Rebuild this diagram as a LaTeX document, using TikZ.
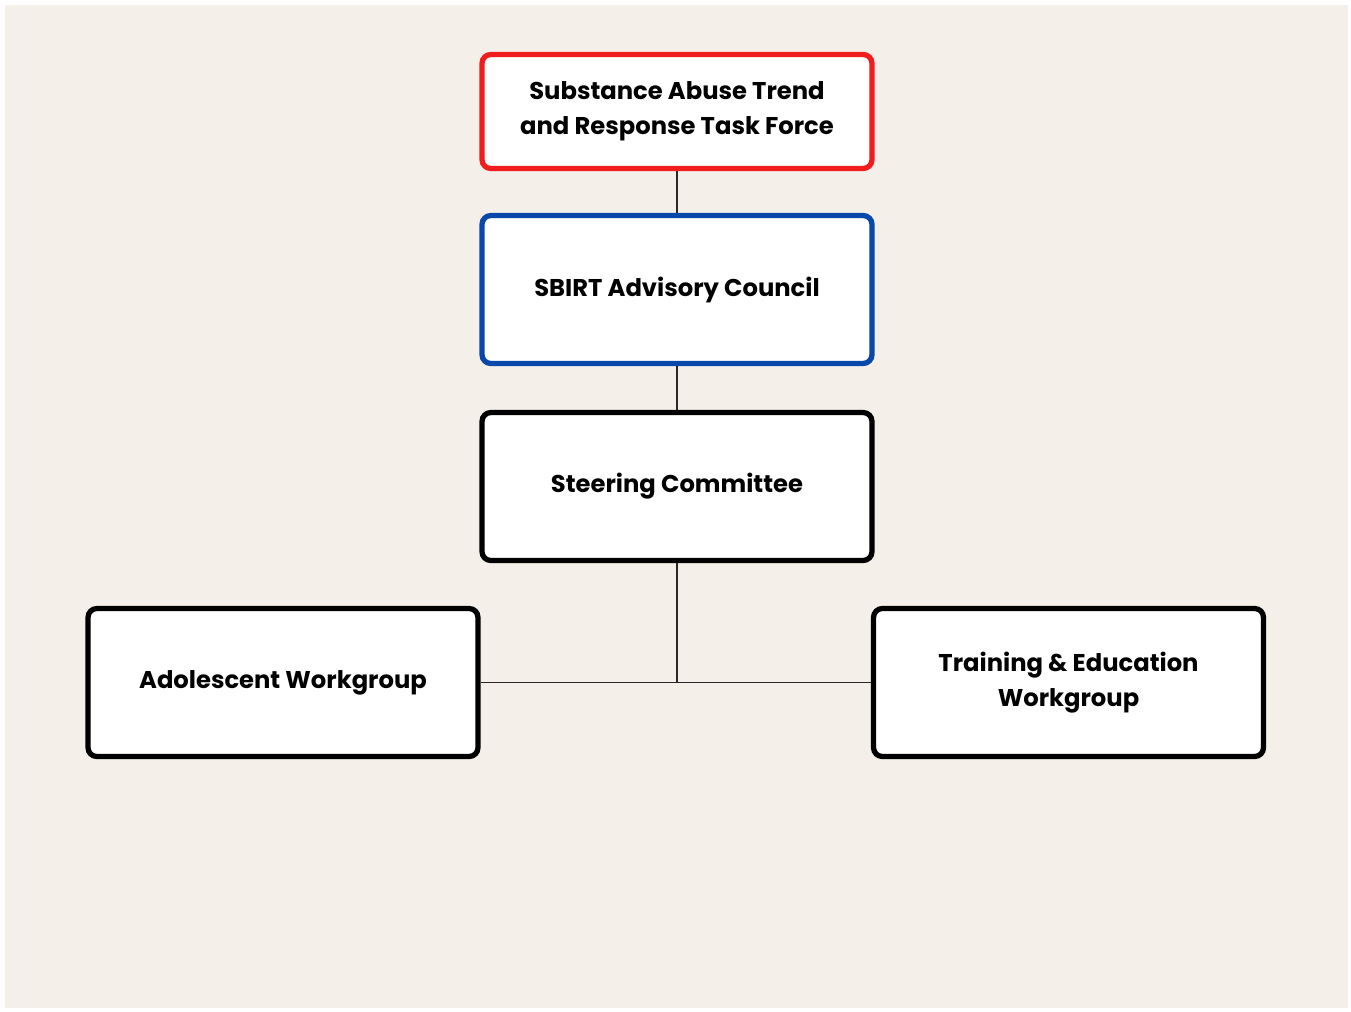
\documentclass[tikz,border=0pt]{standalone}
\usepackage{fontspec}
\setmainfont{Poppins}[BoldFont={* Bold}]
\usepackage{tikz}
\usetikzlibrary{positioning}
\definecolor{paper}{RGB}{244,239,233}
\definecolor{taskred}{RGB}{240,28,30}
\definecolor{councilblue}{RGB}{8,72,170}
\definecolor{linkgray}{RGB}{40,40,40}

\tikzset{
  unitbox/.style={draw=black, fill=white, line width=3pt, rounded corners=5pt,
    minimum width=7.8cm, minimum height=2.96cm, align=center, inner sep=0pt,
    font=\fontsize{13.8}{19.8}\selectfont\bfseries},
  link/.style={draw=linkgray, line width=0.8pt}
}

\begin{document}
\begin{tikzpicture}[x=0.02cm, y=-0.02cm]

% page and background
\fill[white] (0,0) rectangle (1351,1011);
\fill[paper] (5,5) rectangle (1348,1008);

% units
\node[unitbox, draw=taskred, minimum height=2.28cm] (task) at (677,111.5)
  {Substance Abuse Trend\\and Response Task Force};
\node[unitbox, draw=councilblue] (council) at (677,289.5) {SBIRT Advisory Council};
\node[unitbox] (steer) at (677,486.5) {Steering Committee};
\node[unitbox] (adol) at (283,682.5) {Adolescent Workgroup};
\node[unitbox] (train) at (1068.5,682.5) {Training \& Education\\Workgroup};

% links
\draw[link] (task.south) -- (council.north);
\draw[link] (council.south) -- (steer.north);
\draw[link] (steer.south) -- (steer.south |- adol.east);
\draw[link] (adol.east) -- (train.west);

\end{tikzpicture}
\end{document}
